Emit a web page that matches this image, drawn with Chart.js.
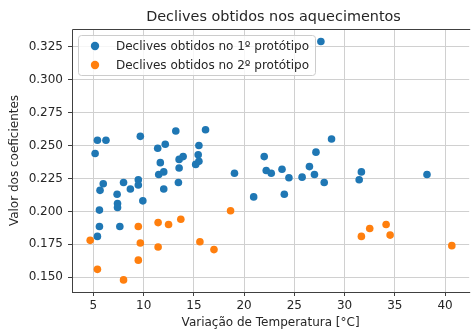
<!DOCTYPE html>
<html>
<head>
<meta charset="utf-8">
<script src="https://cdn.jsdelivr.net/npm/chart.js@4"></script>
<style>
  html, body { margin: 0; padding: 0; background: #fff; }
  #wrap { width: 473px; height: 332px; }
</style>
</head>
<body>
<div id="wrap"><canvas id="chart-declives" width="473" height="332"></canvas></div>
<script>
const titleText = "Declives obtidos nos aquecimentos";
const xTitle = "Variação de Temperatura [°C]";
const yTitle = "Valor dos coeficientes";
const serieLabels = ["Declives obtidos no 1º protótipo", "Declives obtidos no 2º protótipo"];

const xTicks = [5, 10, 15, 20, 25, 30, 35, 40];
const yTicks = [0.150, 0.175, 0.200, 0.225, 0.250, 0.275, 0.300, 0.325];

// 1º protótipo
const x1 = [5.17, 5.4, 6.25, 9.67, 11.4, 12.15, 13.2, 15.5, 5.98, 5.66, 5.6, 5.6, 5.4,
            8.0, 7.36, 7.4, 7.4, 7.63, 8.68, 9.47, 9.47, 9.92, 11.66, 11.5, 12.0, 12.0,
            13.46, 13.53, 13.53, 13.93, 15.18, 15.43, 15.5, 16.16, 27.64, 22.0, 27.15,
            19.04, 22.2, 22.7, 23.77, 24.46, 25.77, 26.5, 27.0, 27.97, 20.95, 24.0,
            28.7, 31.67, 31.45, 38.2];
const y1 = [0.244, 0.254, 0.254, 0.257, 0.248, 0.251, 0.261, 0.250, 0.221, 0.216, 0.201, 0.1885, 0.181,
            0.222, 0.213, 0.206, 0.203, 0.1885, 0.217, 0.224, 0.220, 0.208, 0.237, 0.228, 0.230, 0.217,
            0.222, 0.2395, 0.233, 0.2416, 0.2357, 0.243, 0.238, 0.262, 0.329, 0.2416, 0.245,
            0.229, 0.231, 0.229, 0.232, 0.2255, 0.226, 0.234, 0.228, 0.222, 0.211, 0.213,
            0.255, 0.230, 0.224, 0.228];

// 2º protótipo
const x2 = [4.68, 5.4, 8.0, 9.47, 9.67, 9.47, 11.44, 11.44, 12.48, 13.7, 15.6, 17.0, 18.65,
            31.67, 32.5, 34.13, 34.53, 40.67];
const y2 = [0.178, 0.156, 0.148, 0.1885, 0.176, 0.163, 0.1915, 0.173, 0.190, 0.194, 0.177, 0.171, 0.2005,
            0.181, 0.187, 0.190, 0.182, 0.174];

const colors = ["#1f77b4", "#ff7f0e"];
const textColor = "#262626";
const spineColor = "#404040";
const font = "DejaVu Sans";

const toPoints = (xs, ys) => xs.map((v, i) => ({ x: v, y: ys[i] }));

// moldura do gráfico, título e legenda ao estilo matplotlib
const framePlugin = {
    id: "frame",
    afterDatasetsDraw(chart) {
        const { ctx, chartArea: a } = chart;
        ctx.save();
        ctx.strokeStyle = spineColor;
        ctx.lineWidth = 1;
        ctx.beginPath();
        ctx.moveTo(a.left + 0.5, a.bottom);
        ctx.lineTo(a.left + 0.5, a.top + 0.5);
        ctx.lineTo(a.right + 1, a.top + 0.5);
        ctx.moveTo(a.left, a.bottom + 0.5);
        ctx.lineTo(a.right + 1, a.bottom + 0.5);
        ctx.stroke();
        ctx.restore();
    },
    afterDraw(chart) {
        const { ctx, chartArea: a } = chart;
        ctx.save();
        // título
        ctx.fillStyle = textColor;
        ctx.font = "14.4px '" + font + "'";
        ctx.textAlign = "center";
        ctx.textBaseline = "middle";
        ctx.fillText(titleText, (a.left + 475) / 2, 17);

        // legenda
        const bx = 78, by = 35, bw = 237, bh = 40, r = 3;
        ctx.beginPath();
        ctx.roundRect(bx + 0.5, by + 0.5, bw, bh, r);
        ctx.fillStyle = "rgba(255,255,255,0.8)";
        ctx.fill();
        ctx.strokeStyle = "#cccccc";
        ctx.lineWidth = 1;
        ctx.stroke();

        ctx.font = "12px '" + font + "'";
        ctx.textAlign = "left";
        chart.data.datasets.forEach((ds, i) => {
            const cy = 46 + i * 19;
            ctx.beginPath();
            ctx.arc(95, cy, 4.2, 0, Math.PI * 2);
            ctx.fillStyle = ds.backgroundColor;
            ctx.fill();
            ctx.fillStyle = textColor;
            ctx.fillText(ds.label, 116, cy + 0.5);
        });
        ctx.restore();
    }
};

const ctx = document.getElementById("chart-declives").getContext("2d");

new Chart(ctx, {
    type: "scatter",
    data: {
        datasets: [
            {
                label: serieLabels[0],
                data: toPoints(x1, y1),
                backgroundColor: colors[0],
                borderWidth: 0,
                pointRadius: 3.8,
                pointHoverRadius: 3.8
            },
            {
                label: serieLabels[1],
                data: toPoints(x2, y2),
                backgroundColor: colors[1],
                borderWidth: 0,
                pointRadius: 3.8,
                pointHoverRadius: 3.8
            }
        ]
    },
    options: {
        responsive: false,
        animation: false,
        events: [],
        layout: { padding: { top: 29, right: 0, left: 0, bottom: 0 } },
        plugins: {
            legend: { display: false },
            title: { display: false },
            tooltip: { enabled: false }
        },
        scales: {
            x: {
                type: "linear",
                min: 2.87,
                max: 42.4,
                afterBuildTicks: axis => { axis.ticks = xTicks.map(v => ({ value: v })); },
                afterFit: axis => { axis.height = 40; },
                ticks: {
                    color: textColor,
                    font: { family: font, size: 12 },
                    padding: 3,
                    maxRotation: 0,
                    callback: v => String(v)
                },
                grid: {
                    color: "#d0d0d0",
                    lineWidth: 1,
                    tickColor: spineColor,
                    tickLength: 4,
                    drawTicks: true
                },
                border: { display: false },
                title: {
                    display: true,
                    text: xTitle,
                    color: textColor,
                    font: { family: font, size: 12 },
                    padding: { top: 0, bottom: 2 }
                }
            },
            y: {
                type: "linear",
                min: 0.1388,
                max: 0.3385,
                afterBuildTicks: axis => { axis.ticks = yTicks.map(v => ({ value: v })); },
                afterFit: axis => { axis.width = 72; },
                ticks: {
                    color: textColor,
                    font: { family: font, size: 12 },
                    padding: 5,
                    callback: v => v.toFixed(3)
                },
                grid: {
                    color: "#d0d0d0",
                    lineWidth: 1,
                    tickColor: spineColor,
                    tickLength: 4,
                    drawTicks: true
                },
                border: { display: false },
                title: {
                    display: true,
                    text: yTitle,
                    color: textColor,
                    font: { family: font, size: 12 },
                    padding: { top: 8, bottom: 0 }
                }
            }
        }
    },
    plugins: [framePlugin]
});
</script>
</body>
</html>
